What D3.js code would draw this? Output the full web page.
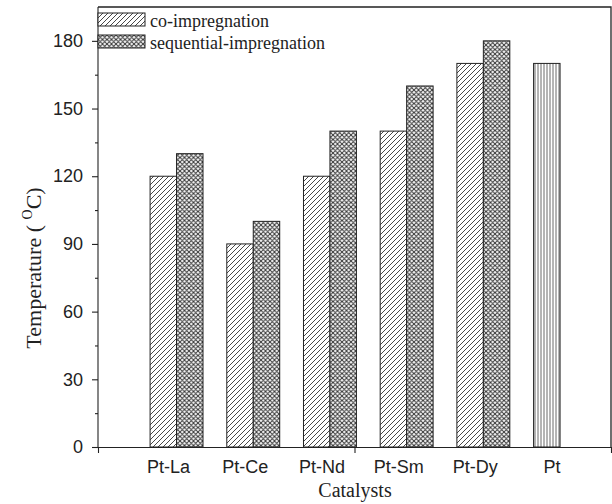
<!DOCTYPE html>
<html>
<head>
<meta charset="utf-8">
<script src="https://cdn.jsdelivr.net/npm/d3@7"></script>
<style>
  html, body { margin: 0; padding: 0; background: #fff; }
  svg { display: block; }
</style>
</head>
<body>
<svg id="chart" width="612" height="504"></svg>
<script>
// Catalyst groups and light-off temperatures (°C)
const catalysts = ["Pt-La", "Pt-Ce", "Pt-Nd", "Pt-Sm", "Pt-Dy", "Pt"];
const coImpregnation = [120, 90, 120, 140, 170, null];
const seqImpregnation = [130, 100, 140, 160, 180, null];
const ptOnly = [null, null, null, null, null, 170];
const seriesNames = ["co-impregnation", "sequential-impregnation"];
const yMajorTicks = [0, 30, 60, 90, 120, 150, 180];
const yMinorTicks = [15, 45, 75, 105, 135, 165];

const svg = d3.select("#chart");
const ink = "#222";

// Plot frame
const plotLeft = 98, plotRight = 611, plotTop = 7, plotBottom = 447;

const y = d3.scaleLinear().domain([0, 195]).range([plotBottom, plotTop]);
const x = d3.scaleBand().domain(catalysts)
  .range([138.2, 598.4]).paddingInner(0.31).paddingOuter(0.155);
const xs = d3.scaleBand().domain(["co", "seq"]).range([0, x.bandwidth()]);
const xFrame = d3.scaleLinear().domain([0, 1]).range([plotLeft, plotRight]);

// Fill patterns
const defs = svg.append("defs");
const diag = defs.append("pattern").attr("id", "pDiag")
  .attr("patternUnits", "userSpaceOnUse").attr("width", 5).attr("height", 5);
diag.append("rect").attr("width", 5).attr("height", 5).attr("fill", "#fff");
diag.append("path").attr("d", "M0,5 L5,0 M-1,1 L1,-1 M4,6 L6,4")
  .attr("stroke", "#333").attr("stroke-width", 0.9);

const cross = defs.append("pattern").attr("id", "pCross")
  .attr("patternUnits", "userSpaceOnUse").attr("width", 4.5).attr("height", 4.5);
cross.append("rect").attr("width", 4.5).attr("height", 4.5).attr("fill", "#fff");
cross.append("path").attr("d", "M0,4.5 L4.5,0 M-1,1 L1,-1 M3.5,5.5 L5.5,3.5 M0,0 L4.5,4.5 M-1,3.5 L1,5.5 M3.5,-1 L5.5,1")
  .attr("stroke", "#333").attr("stroke-width", 1);

const vert = defs.append("pattern").attr("id", "pVert")
  .attr("patternUnits", "userSpaceOnUse").attr("width", 3).attr("height", 3);
vert.append("rect").attr("width", 3).attr("height", 3).attr("fill", "#fff");
vert.append("path").attr("d", "M1,0 L1,3").attr("stroke", "#444").attr("stroke-width", 0.8);

// Bars
const barGroups = [
  { key: "co", values: coImpregnation, fill: "url(#pDiag)" },
  { key: "seq", values: seqImpregnation, fill: "url(#pCross)" },
  { key: "co", values: ptOnly, fill: "url(#pVert)" }
];
barGroups.forEach(s => {
  const data = catalysts.map((c, i) => ({ c, v: s.values[i] })).filter(d => d.v != null);
  svg.append("g").selectAll("rect").data(data).join("rect")
    .attr("x", d => x(d.c) + xs(s.key))
    .attr("y", d => y(d.v))
    .attr("width", xs.bandwidth())
    .attr("height", d => y(0) - y(d.v))
    .attr("fill", s.fill)
    .attr("stroke", ink).attr("stroke-width", 1);
});

// Y axis: major ticks with labels, minor ticks between
const yAxis = svg.append("g").attr("transform", `translate(${plotLeft},0)`)
  .call(d3.axisLeft(y).tickValues(yMajorTicks).tickSize(6).tickPadding(9).tickSizeOuter(0));
svg.append("g").attr("transform", `translate(${plotLeft},0)`)
  .call(d3.axisLeft(y).tickValues(yMinorTicks).tickSize(3).tickFormat("").tickSizeOuter(0))
  .select(".domain").remove();
yAxis.select(".domain").attr("d", `M0,${plotBottom}V${plotTop}`);
yAxis.selectAll("text").attr("font-family", "'Liberation Sans', Arial, sans-serif")
  .attr("font-size", 18).attr("fill", ink);

// X axis line with frame ticks
svg.append("g").attr("transform", `translate(0,${plotBottom})`)
  .call(d3.axisBottom(xFrame).tickValues([0, 0.5, 1]).tickSize(6).tickFormat("").tickSizeOuter(0));
svg.selectAll(".domain, .tick line").attr("stroke", ink).attr("stroke-width", 1.1);

// Top and right border
svg.append("path")
  .attr("d", `M${plotLeft},${plotTop}H${plotRight}V${plotBottom}`)
  .attr("fill", "none").attr("stroke", ink).attr("stroke-width", 1.3);

// Category labels
svg.append("g").selectAll("text").data(catalysts).join("text")
  .attr("x", d => x(d) + x.bandwidth() / 2 - 8)
  .attr("y", 473)
  .attr("text-anchor", "middle")
  .attr("font-family", "'Liberation Sans', Arial, sans-serif")
  .attr("font-size", 18).attr("fill", ink)
  .text(d => d);

// Axis titles
svg.append("text")
  .attr("x", 355).attr("y", 497).attr("text-anchor", "middle")
  .attr("font-family", "'Liberation Serif', 'Times New Roman', serif")
  .attr("font-size", 20).attr("fill", ink)
  .text("Catalysts");

const yTitle = svg.append("text")
  .attr("transform", "translate(41,268) rotate(-90)")
  .attr("text-anchor", "middle")
  .attr("font-family", "'Liberation Serif', 'Times New Roman', serif")
  .attr("font-size", 22).attr("fill", ink);
yTitle.append("tspan").text("Temperature ( ");
yTitle.append("tspan").attr("font-size", 14).attr("dy", -9).text("O");
yTitle.append("tspan").attr("dy", 9).text("C)");

// Legend
const legendFills = ["url(#pDiag)", "url(#pCross)"];
const legend = svg.append("g");
seriesNames.forEach((name, i) => {
  const row = legend.append("g").attr("transform", `translate(${plotLeft},${13 + i * 22})`);
  row.append("rect").attr("width", 47).attr("height", 13)
    .attr("fill", legendFills[i]).attr("stroke", ink).attr("stroke-width", 1);
  row.append("text").attr("x", 52).attr("y", 13.5)
    .attr("font-family", "'Liberation Serif', 'Times New Roman', serif")
    .attr("font-size", 18).attr("fill", ink)
    .text(name);
});
</script>
</body>
</html>
